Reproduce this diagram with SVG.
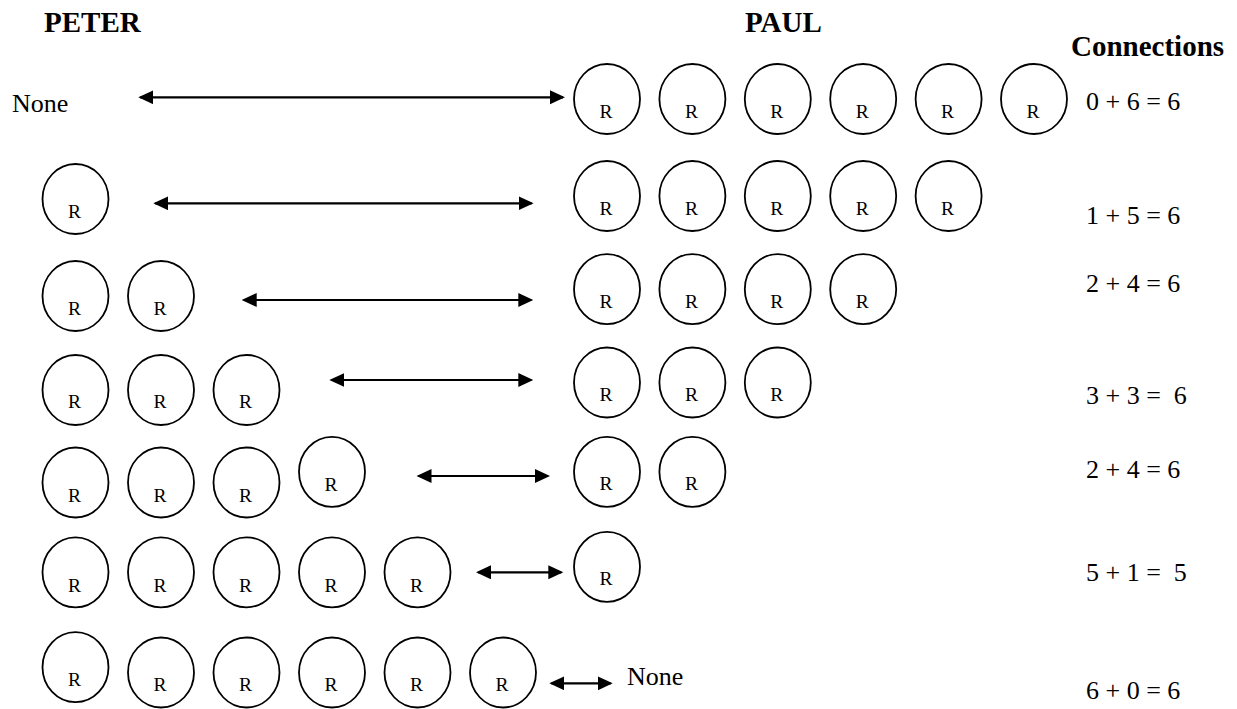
<svg xmlns="http://www.w3.org/2000/svg" width="1237" height="709" viewBox="0 0 1237 709">
<style>
.n ellipse{fill:#fff;stroke:#000;stroke-width:1.8}
.n text{font-family:"Liberation Serif","Times New Roman",serif;font-size:19.5px;text-anchor:middle;fill:#000}
.h{font-family:"Liberation Serif","Times New Roman",serif;font-size:29px;font-weight:bold;fill:#000}
.t{font-family:"Liberation Serif","Times New Roman",serif;font-size:26px;fill:#000;white-space:pre}
.c line{stroke:#000;stroke-width:2.2}
</style>
<defs>
<marker id="ah" markerUnits="userSpaceOnUse" markerWidth="16" markerHeight="15" refX="13" refY="7" orient="auto-start-reverse" viewBox="0 0 16 15">
<path d="M0,0 L15,7 L0,14 z" fill="#000"/>
</marker>
</defs>
<rect width="1237" height="709" fill="#fff"/>

<g id="headers">
<text class="h" x="44" y="32">PETER</text>
<text class="h" x="745" y="32">PAUL</text>
<text class="h" x="1071" y="56">Connections</text>
</g>

<g id="labels">
<text class="t" x="12" y="112">None</text>
<text class="t" x="627" y="685">None</text>
<text class="t" x="1086" y="110">0 + 6 = 6</text>
<text class="t" x="1086" y="224">1 + 5 = 6</text>
<text class="t" x="1086" y="292">2 + 4 = 6</text>
<text class="t" x="1086" y="404" xml:space="preserve">3 + 3 =  6</text>
<text class="t" x="1086" y="478">2 + 4 = 6</text>
<text class="t" x="1086" y="581" xml:space="preserve">5 + 1 =  5</text>
<text class="t" x="1086" y="699">6 + 0 = 6</text>
</g>

<g id="connectors" class="c">
<line x1="140.3" y1="97.3" x2="563" y2="97.3" marker-start="url(#ah)" marker-end="url(#ah)"/>
<line x1="155.3" y1="203.3" x2="531.6" y2="203.3" marker-start="url(#ah)" marker-end="url(#ah)"/>
<line x1="243.7" y1="300" x2="531.3" y2="300" marker-start="url(#ah)" marker-end="url(#ah)"/>
<line x1="331.3" y1="380" x2="531.3" y2="380" marker-start="url(#ah)" marker-end="url(#ah)"/>
<line x1="418.5" y1="476" x2="548" y2="476" marker-start="url(#ah)" marker-end="url(#ah)"/>
<line x1="478" y1="572.3" x2="561.3" y2="572.3" marker-start="url(#ah)" marker-end="url(#ah)"/>
<line x1="551.3" y1="683.3" x2="610.7" y2="683.3" marker-start="url(#ah)" marker-end="url(#ah)"/>
</g>

<!-- Row 1 PAUL -->
<g id="paul-1-1" class="n"><ellipse cx="607" cy="99" rx="33" ry="35"/><text x="606" y="117.5">R</text></g>
<g id="paul-1-2" class="n"><ellipse cx="692.4" cy="99" rx="33" ry="35"/><text x="691.4" y="117.5">R</text></g>
<g id="paul-1-3" class="n"><ellipse cx="777.8" cy="99" rx="33" ry="35"/><text x="776.8" y="117.5">R</text></g>
<g id="paul-1-4" class="n"><ellipse cx="863.2" cy="99" rx="33" ry="35"/><text x="862.2" y="117.5">R</text></g>
<g id="paul-1-5" class="n"><ellipse cx="948.6" cy="99" rx="33" ry="35"/><text x="947.6" y="117.5">R</text></g>
<g id="paul-1-6" class="n"><ellipse cx="1034" cy="99" rx="33" ry="35"/><text x="1033" y="117.5">R</text></g>

<!-- Row 2 -->
<g id="peter-2-1" class="n"><ellipse cx="75.5" cy="199" rx="33" ry="35"/><text x="74.5" y="217.5">R</text></g>
<g id="paul-2-1" class="n"><ellipse cx="607" cy="196" rx="33" ry="35"/><text x="606" y="214.5">R</text></g>
<g id="paul-2-2" class="n"><ellipse cx="692.4" cy="196" rx="33" ry="35"/><text x="691.4" y="214.5">R</text></g>
<g id="paul-2-3" class="n"><ellipse cx="777.8" cy="196" rx="33" ry="35"/><text x="776.8" y="214.5">R</text></g>
<g id="paul-2-4" class="n"><ellipse cx="863.2" cy="196" rx="33" ry="35"/><text x="862.2" y="214.5">R</text></g>
<g id="paul-2-5" class="n"><ellipse cx="948.6" cy="196" rx="33" ry="35"/><text x="947.6" y="214.5">R</text></g>

<!-- Row 3 -->
<g id="peter-3-1" class="n"><ellipse cx="75.5" cy="296" rx="33" ry="35"/><text x="74.5" y="314.5">R</text></g>
<g id="peter-3-2" class="n"><ellipse cx="161" cy="296" rx="33" ry="35"/><text x="160" y="314.5">R</text></g>
<g id="paul-3-1" class="n"><ellipse cx="607" cy="289.2" rx="33" ry="35"/><text x="606" y="307.7">R</text></g>
<g id="paul-3-2" class="n"><ellipse cx="692.4" cy="289.2" rx="33" ry="35"/><text x="691.4" y="307.7">R</text></g>
<g id="paul-3-3" class="n"><ellipse cx="777.8" cy="289.2" rx="33" ry="35"/><text x="776.8" y="307.7">R</text></g>
<g id="paul-3-4" class="n"><ellipse cx="863.2" cy="289.2" rx="33" ry="35"/><text x="862.2" y="307.7">R</text></g>

<!-- Row 4 -->
<g id="peter-4-1" class="n"><ellipse cx="75.5" cy="390" rx="33" ry="35"/><text x="74.5" y="408">R</text></g>
<g id="peter-4-2" class="n"><ellipse cx="161" cy="390" rx="33" ry="35"/><text x="160" y="408">R</text></g>
<g id="peter-4-3" class="n"><ellipse cx="246.5" cy="390" rx="33" ry="35"/><text x="245.5" y="408">R</text></g>
<g id="paul-4-1" class="n"><ellipse cx="607" cy="382.5" rx="33" ry="35"/><text x="606" y="401">R</text></g>
<g id="paul-4-2" class="n"><ellipse cx="692.4" cy="382.5" rx="33" ry="35"/><text x="691.4" y="401">R</text></g>
<g id="paul-4-3" class="n"><ellipse cx="777.8" cy="382.5" rx="33" ry="35"/><text x="776.8" y="401">R</text></g>

<!-- Row 5 -->
<g id="peter-5-1" class="n"><ellipse cx="75.5" cy="482.5" rx="33" ry="35"/><text x="74.5" y="501.5">R</text></g>
<g id="peter-5-2" class="n"><ellipse cx="161" cy="482.5" rx="33" ry="35"/><text x="160" y="501.5">R</text></g>
<g id="peter-5-3" class="n"><ellipse cx="246.5" cy="482.5" rx="33" ry="35"/><text x="245.5" y="501.5">R</text></g>
<g id="peter-5-4" class="n"><ellipse cx="332" cy="471.8" rx="33" ry="35"/><text x="331" y="490.5">R</text></g>
<g id="paul-5-1" class="n"><ellipse cx="607" cy="471.8" rx="33" ry="35"/><text x="606" y="490.3">R</text></g>
<g id="paul-5-2" class="n"><ellipse cx="692.4" cy="471.8" rx="33" ry="35"/><text x="691.4" y="490.3">R</text></g>

<!-- Row 6 -->
<g id="peter-6-1" class="n"><ellipse cx="75.5" cy="572.3" rx="33" ry="35"/><text x="74.5" y="591.5">R</text></g>
<g id="peter-6-2" class="n"><ellipse cx="161" cy="572.3" rx="33" ry="35"/><text x="160" y="591.5">R</text></g>
<g id="peter-6-3" class="n"><ellipse cx="246.5" cy="572.3" rx="33" ry="35"/><text x="245.5" y="591.5">R</text></g>
<g id="peter-6-4" class="n"><ellipse cx="332" cy="572.3" rx="33" ry="35"/><text x="331" y="591.5">R</text></g>
<g id="peter-6-5" class="n"><ellipse cx="417.5" cy="572.3" rx="33" ry="35"/><text x="416.5" y="591.5">R</text></g>
<g id="paul-6-1" class="n"><ellipse cx="607" cy="566.8" rx="33" ry="35"/><text x="606" y="585.3">R</text></g>

<!-- Row 7 -->
<g id="peter-7-1" class="n"><ellipse cx="75.5" cy="667.2" rx="33" ry="35"/><text x="74.5" y="686">R</text></g>
<g id="peter-7-2" class="n"><ellipse cx="161" cy="672.5" rx="33" ry="35"/><text x="160" y="690.7">R</text></g>
<g id="peter-7-3" class="n"><ellipse cx="246.5" cy="672.5" rx="33" ry="35"/><text x="245.5" y="690.7">R</text></g>
<g id="peter-7-4" class="n"><ellipse cx="332" cy="672.5" rx="33" ry="35"/><text x="331" y="690.7">R</text></g>
<g id="peter-7-5" class="n"><ellipse cx="417.5" cy="672.5" rx="33" ry="35"/><text x="416.5" y="690.7">R</text></g>
<g id="peter-7-6" class="n"><ellipse cx="503" cy="672.5" rx="33" ry="35"/><text x="502" y="690.7">R</text></g>
</svg>
